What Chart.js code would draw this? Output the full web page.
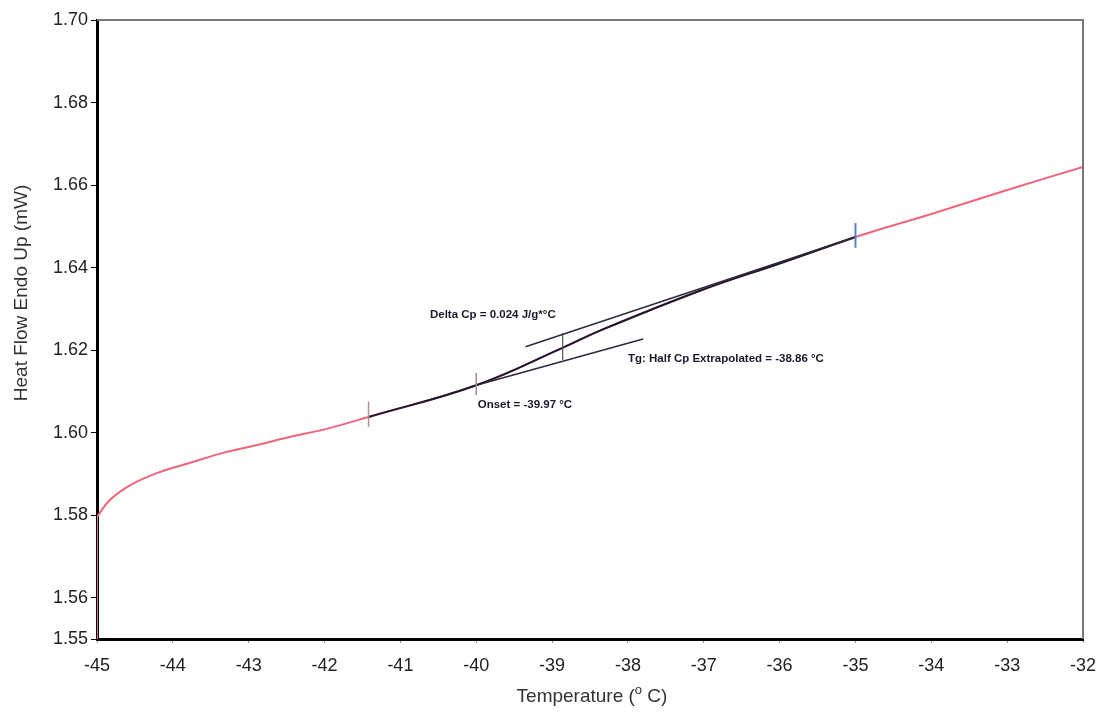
<!DOCTYPE html>
<html>
<head>
<meta charset="utf-8">
<script src="https://cdn.jsdelivr.net/npm/chart.js@4.4.0/dist/chart.umd.min.js"></script>
<style>
  body { margin: 0; background: #fff; }
  #wrap { width: 1103px; height: 713px; }
</style>
</head>
<body>
<div id="wrap"><canvas id="dsc" width="1103" height="713"></canvas></div>
<script>
// DSC trace (temperature in degC, heat flow in mW)
var temps = [-45, -44.83, -44.56, -44.21, -43.77, -43.34, -42.89, -42.45, -42, -41.42, -40, -38.87, -38.36, -37.05, -36, -35, -34, -33, -32];
var heatFlow = [1.5796, 1.5837, 1.5873, 1.5902, 1.5927, 1.5951, 1.597, 1.599, 1.6008, 1.6038, 1.6115, 1.6205, 1.6248, 1.6344, 1.641, 1.6474, 1.653, 1.6588, 1.6644];

// drop at the start of the run
var startX = [-45, -45];
var startY = [1.55, 1.5796];

// analysed range (drawn dark over the trace)
var rangeStart = -41.42;
var rangeEnd = -35;

// tangent lines from the Tg analysis
var lowerTangentX = [-40, -37.8];
var lowerTangentY = [1.6115, 1.6227];
var upperTangentX = [-39.35, -35];
var upperTangentY = [1.6208, 1.6474];
var halfCpX = [-38.86, -38.86];
var halfCpY = [1.6176, 1.6241];

// limit markers
var markerX = [-41.42, -40, -35];
var markerLow = [1.6014, 1.6091, 1.6448];
var markerHigh = [1.6075, 1.6145, 1.6508];

var yTicks = [1.55, 1.56, 1.58, 1.60, 1.62, 1.64, 1.66, 1.68, 1.70];

function pts(xs, ys) {
  return xs.map(function (x, i) { return { x: x, y: ys[i] }; });
}

var tracePts = pts(temps, heatFlow);
var rangePts = tracePts.filter(function (p) {
  return p.x >= rangeStart && p.x <= rangeEnd;
});

function marker(i) {
  return [{ x: markerX[i], y: markerLow[i] }, { x: markerX[i], y: markerHigh[i] }];
}

function seg(data, color, width, order) {
  return {
    data: data,
    showLine: true,
    borderColor: color,
    borderWidth: width,
    pointRadius: 0,
    fill: false,
    order: order,
  };
}

var trace = seg(tracePts, "#f0657c", 2, 10);
trace.tension = 0.4;
var ranged = seg(rangePts, "#1c1a30", 2, 5);
ranged.tension = 0.4;

// labels and frame
var extras = {
  id: "extras",
  afterDraw: function (chart) {
    var c = chart.ctx;
    var a = chart.chartArea;
    var xs = chart.scales.x;
    var ys = chart.scales.y;
    c.save();
    // top and right frame
    c.strokeStyle = "#777";
    c.lineWidth = 2;
    c.beginPath();
    c.moveTo(a.left, a.top);
    c.lineTo(a.right, a.top);
    c.lineTo(a.right, a.bottom);
    c.stroke();

    // analysis labels
    c.fillStyle = "#1a1a2a";
    c.font = "bold 11.5px 'Liberation Sans', Arial, sans-serif";
    c.textBaseline = "middle";
    c.textAlign = "left";
    c.fillText("Delta Cp = 0.024 J/g*°C", xs.getPixelForValue(-40.61), ys.getPixelForValue(1.6285));
    c.fillText("Onset = -39.97 °C", xs.getPixelForValue(-39.98), ys.getPixelForValue(1.6067));
    c.fillText("Tg: Half Cp Extrapolated = -38.86 °C", xs.getPixelForValue(-38.0), ys.getPixelForValue(1.6179));

    // axis titles
    c.fillStyle = "#333";
    c.font = "19px 'Liberation Sans', Arial, sans-serif";
    c.textAlign = "center";
    c.save();
    c.translate(22, 293);
    c.rotate(-Math.PI / 2);
    c.fillText("Heat Flow Endo Up (mW)", 0, 0);
    c.restore();

    var t1 = "Temperature (";
    var t3 = " C)";
    c.textAlign = "left";
    var w1 = c.measureText(t1).width;
    var w3 = c.measureText(t3).width;
    c.font = "13px 'Liberation Sans', Arial, sans-serif";
    var w2 = c.measureText("o").width;
    var x0 = 592 - (w1 + w2 + w3) / 2;
    c.font = "19px 'Liberation Sans', Arial, sans-serif";
    c.fillText(t1, x0, 697);
    c.fillText(t3, x0 + w1 + w2, 697);
    c.font = "13px 'Liberation Sans', Arial, sans-serif";
    c.fillText("o", x0 + w1, 690);
    c.restore();
  },
};

var ctx = document.getElementById("dsc").getContext("2d");
var chart = new Chart(ctx, {
  type: "scatter",
  data: {
    datasets: [
      trace,
      seg(pts(startX, startY), "#e0708a", 2, 9),
      ranged,
      seg(pts(lowerTangentX, lowerTangentY), "#2a2a3c", 1.5, 1),
      seg(pts(upperTangentX, upperTangentY), "#2a2a3c", 1.5, 1),
      seg(pts(halfCpX, halfCpY), "#555", 1.2, 1),
      seg(marker(0), "#b09090", 1.5, 0),
      seg(marker(1), "#a09098", 1.5, 0),
      seg(marker(2), "#5a80c8", 2, 0),
    ],
  },
  options: {
    responsive: false,
    animation: false,
    layout: { padding: { left: 0, top: 20, right: 0, bottom: 0 } },
    plugins: {
      legend: { display: false },
      tooltip: { enabled: false },
    },
    scales: {
      x: {
        type: "linear",
        min: -45,
        max: -32,
        afterFit: function (s) { s.height = 74; s.paddingRight = 20; },
        border: { color: "#000", width: 3 },
        grid: { drawOnChartArea: false, drawTicks: true, tickLength: 4, color: "#999" },
        ticks: {
          stepSize: 1,
          padding: 12,
          color: "#222",
          font: { family: "'Liberation Sans', Arial, sans-serif", size: 18 },
        },
      },
      y: {
        type: "linear",
        min: 1.55,
        max: 1.70,
        afterFit: function (s) { s.width = 97; },
        afterBuildTicks: function (s) {
          s.ticks = yTicks.map(function (v) { return { value: v }; });
        },
        border: { color: "#000", width: 3 },
        grid: { drawOnChartArea: false, drawTicks: true, tickLength: 6, color: "#000" },
        ticks: {
          padding: 3,
          color: "#222",
          font: { family: "'Liberation Sans', Arial, sans-serif", size: 18 },
          callback: function (v) { return v.toFixed(2); },
        },
      },
    },
  },
  plugins: [extras],
});
</script>
</body>
</html>
